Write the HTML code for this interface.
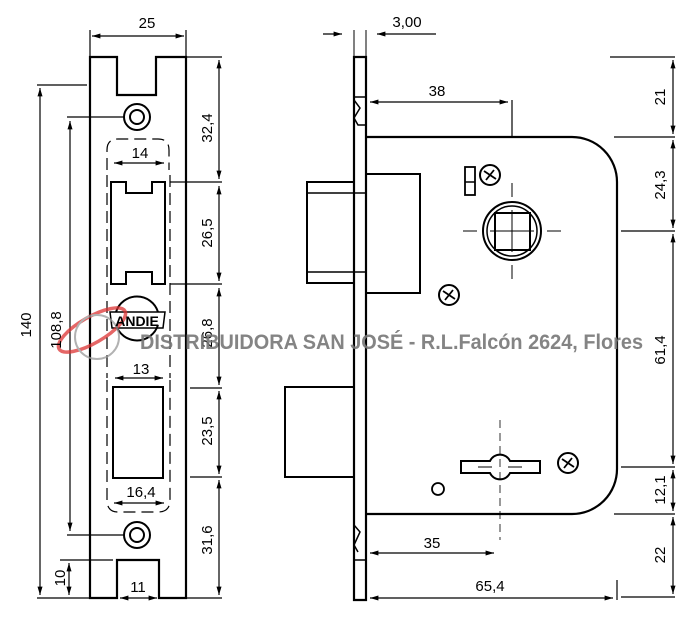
<!DOCTYPE html>
<html><head><meta charset="utf-8"><style>html,body{margin:0;padding:0;background:#fff}svg{display:block}</style></head>
<body>
<svg width="700" height="626" viewBox="0 0 700 626" xmlns="http://www.w3.org/2000/svg" font-family="Liberation Sans, sans-serif">
<defs>
<marker id="a" viewBox="0 0 10 10" refX="10" refY="5" markerWidth="7" markerHeight="7" orient="auto-start-reverse"><path d="M0,2 L10,5 L0,8 z" fill="#000"/></marker>
</defs>
<g fill="none" stroke="#000">
<path d="M90,57 H117 V95 H156 V57 H186 V598 H159 V560 H117 V598 H90 Z" stroke-width="2.2"/>
<circle cx="137" cy="117" r="13" stroke-width="2"/><circle cx="137" cy="117" r="7" stroke-width="2"/>
<circle cx="137" cy="535" r="13" stroke-width="2"/><circle cx="137" cy="535" r="7" stroke-width="2"/>
<path d="M111,182 H126 V193 H152 V182 H165 V284 H152 V272 H126 V284 H111 Z" stroke-width="2"/>
<rect x="113" y="387" width="50" height="91" stroke-width="2"/>
<path d="M107,170 V150 Q107,139 118,139 H158 Q169,139 169,150 V170" stroke-width="1.2" stroke-dasharray="12,6"/>
<path d="M107,175 V378 M170,175 V378" stroke-width="1.2" stroke-dasharray="12,6"/>
<path d="M107,380 V500 Q107,512 118,512 H158 Q170,512 170,500 V380" stroke-width="1.2" stroke-dasharray="12,6"/>
<path d="M116,312 A22,22 0 0 1 158,312 M116,325 A22,22 0 0 0 158,325" stroke-width="2"/>
<path d="M110,312 L165,312 L163,328 L112,328 Z" stroke-width="1.5"/>
<g stroke-width="1.2">
<line x1="92" y1="36" x2="184" y2="36" marker-start="url(#a)" marker-end="url(#a)"/>
<line x1="90" y1="30" x2="90" y2="56"/><line x1="186" y1="30" x2="186" y2="56"/>
<line x1="186" y1="57" x2="222" y2="57"/><line x1="170" y1="182" x2="222" y2="182"/>
<line x1="170" y1="284" x2="222" y2="284"/><line x1="190" y1="388" x2="222" y2="388"/>
<line x1="190" y1="477" x2="222" y2="477"/><line x1="186" y1="598" x2="222" y2="598"/>
<line x1="219" y1="60" x2="219" y2="179" marker-start="url(#a)" marker-end="url(#a)"/>
<line x1="219" y1="186" x2="219" y2="281" marker-start="url(#a)" marker-end="url(#a)"/>
<line x1="219" y1="288" x2="219" y2="385" marker-start="url(#a)" marker-end="url(#a)"/>
<line x1="219" y1="391" x2="219" y2="474" marker-start="url(#a)" marker-end="url(#a)"/>
<line x1="219" y1="480" x2="219" y2="595" marker-start="url(#a)" marker-end="url(#a)"/>
<line x1="114" y1="163" x2="164" y2="163" marker-start="url(#a)" marker-end="url(#a)"/>
<line x1="115" y1="378" x2="163" y2="378" marker-start="url(#a)" marker-end="url(#a)"/>
<line x1="114" y1="503" x2="164" y2="503" marker-start="url(#a)" marker-end="url(#a)"/>
<line x1="120" y1="598" x2="157" y2="598" marker-start="url(#a)" marker-end="url(#a)"/>
<line x1="37" y1="85" x2="87" y2="85"/><line x1="37" y1="598" x2="90" y2="598"/>
<line x1="40" y1="88" x2="40" y2="595" marker-start="url(#a)" marker-end="url(#a)"/>
<line x1="67" y1="117" x2="124" y2="117"/><line x1="67" y1="535" x2="124" y2="535"/>
<line x1="70" y1="121" x2="70" y2="531" marker-start="url(#a)" marker-end="url(#a)"/>
<line x1="60" y1="560" x2="113" y2="560"/>
<line x1="69" y1="563" x2="69" y2="595" marker-start="url(#a)" marker-end="url(#a)"/>
</g>
<path d="M354,57 H366 V600 H354 Z" stroke-width="2.2"/>
<path d="M354,97 H366 M354,100 L360,108 L354,118 L358,125 H366 M354,525 L360,532 L354,545 L358,552 M354,560 H366" stroke-width="1.5"/>
<path d="M366,137 H572 A45,45 0 0 1 617,182 V469 A45,45 0 0 1 572,514 H366" stroke-width="2.2"/>
<rect x="307" y="182" width="47" height="101" stroke-width="2"/>
<path d="M307,193 H366 M307,272 H366" stroke-width="1.5"/>
<rect x="366" y="174" width="54" height="119" stroke-width="2"/>
<rect x="285" y="387" width="69" height="90" stroke-width="2"/>
<rect x="465" y="167" width="10" height="28" stroke-width="1.8"/><line x1="465" y1="182" x2="475" y2="182" stroke-width="1.5"/>
<circle cx="512" cy="231" r="29" stroke-width="2"/><circle cx="512" cy="231" r="25" stroke-width="1.5"/>
<rect x="495" y="213" width="35" height="37" stroke-width="2"/>
<path d="M463,231 H477 M490,231 H534 M547,231 H561 M512,183 V197 M512,210 V252 M512,265 V279" stroke-width="1"/>
<path d="M461,461 H490 A11,11 0 0 1 510,461 H540 V473 H510 A11,11 0 0 1 490,473 H461 Z" stroke-width="2"/>
<path d="M478,467 H492 M508,467 H522" stroke-width="1"/>
<path d="M500,420 V540" stroke-width="0.8" stroke-dasharray="8,5"/>
<circle cx="438" cy="489" r="6" stroke-width="1.8"/>
<line x1="370" y1="102" x2="508" y2="102" stroke-width="1.2" marker-start="url(#a)" marker-end="url(#a)"/>
<line x1="512" y1="100" x2="512" y2="137" stroke-width="1.2"/>
<line x1="370" y1="553" x2="494" y2="553" stroke-width="1.2" marker-start="url(#a)" marker-end="url(#a)"/>
<line x1="370" y1="598" x2="613" y2="598" stroke-width="1.2" marker-start="url(#a)" marker-end="url(#a)"/>
<line x1="617" y1="580" x2="617" y2="600" stroke-width="1.2"/>
<line x1="354" y1="30" x2="354" y2="56" stroke-width="1"/><line x1="366" y1="30" x2="366" y2="56" stroke-width="1"/>
<line x1="323" y1="34" x2="342" y2="34" stroke-width="1.2" marker-end="url(#a)"/>
<line x1="436" y1="34" x2="377" y2="34" stroke-width="1.2" marker-end="url(#a)"/>
<g stroke-width="1.2">
<line x1="610" y1="57" x2="675" y2="57"/><line x1="614" y1="137" x2="675" y2="137"/>
<line x1="621" y1="231" x2="675" y2="231"/><line x1="621" y1="467" x2="675" y2="467"/>
<line x1="614" y1="514" x2="675" y2="514"/><line x1="621" y1="597" x2="675" y2="597"/>
<line x1="673" y1="60" x2="673" y2="134" marker-start="url(#a)" marker-end="url(#a)"/>
<line x1="673" y1="140" x2="673" y2="228" marker-start="url(#a)" marker-end="url(#a)"/>
<line x1="673" y1="234" x2="673" y2="464" marker-start="url(#a)" marker-end="url(#a)"/>
<line x1="673" y1="470" x2="673" y2="511" marker-start="url(#a)" marker-end="url(#a)"/>
<line x1="673" y1="517" x2="673" y2="594" marker-start="url(#a)" marker-end="url(#a)"/>
</g>
</g>
<g fill="none" stroke="#000" stroke-width="2">
<circle cx="490" cy="175" r="10"/><path d="M484,171 L496,179 M486,180 L494,170" stroke-width="1.8"/>
<circle cx="449" cy="295" r="10"/><path d="M443,291 L455,299 M445,300 L453,290" stroke-width="1.8"/>
<circle cx="568" cy="463" r="10"/><path d="M562,459 L574,467 M564,468 L572,458" stroke-width="1.8"/>
</g>
<g fill="none" stroke="#d33" stroke-width="3.5" opacity="0.75">
<ellipse cx="92" cy="330" rx="38" ry="13" transform="rotate(-30 92 330)"/>
<circle cx="97" cy="337" r="22" stroke="#999" stroke-width="2"/>
</g>
<g font-size="15" fill="#000" text-anchor="middle">
<text x="147" y="28">25</text>
<text x="140" y="158">14</text>
<text x="141" y="374">13</text>
<text x="141" y="497">16,4</text>
<text x="138" y="592">11</text>
<text x="407" y="27">3,00</text>
<text x="437" y="96">38</text>
<text x="432" y="548">35</text>
<text x="490" y="591">65,4</text>
<text transform="translate(212,128) rotate(-90)">32,4</text>
<text transform="translate(212,233) rotate(-90)">26,5</text>
<text transform="translate(212,333) rotate(-90)">26,8</text>
<text transform="translate(212,431) rotate(-90)">23,5</text>
<text transform="translate(212,540) rotate(-90)">31,6</text>
<text transform="translate(31,325) rotate(-90)">140</text>
<text transform="translate(61,330) rotate(-90)">108,8</text>
<text transform="translate(65,578) rotate(-90)">10</text>
<text transform="translate(665,97) rotate(-90)">21</text>
<text transform="translate(665,185) rotate(-90)">24,3</text>
<text transform="translate(665,350) rotate(-90)">61,4</text>
<text transform="translate(665,490) rotate(-90)">12,1</text>
<text transform="translate(665,555) rotate(-90)">22</text>
</g>
<text x="137" y="326" font-size="14" font-weight="bold" text-anchor="middle" fill="#000">ANDIE</text>
<text x="140" y="349" font-size="21" font-weight="bold" fill="#777" fill-opacity="0.9" textLength="503" lengthAdjust="spacingAndGlyphs">DISTRIBUIDORA SAN JOSÉ - R.L.Falcón 2624, Flores</text>
</svg>
</body></html>
